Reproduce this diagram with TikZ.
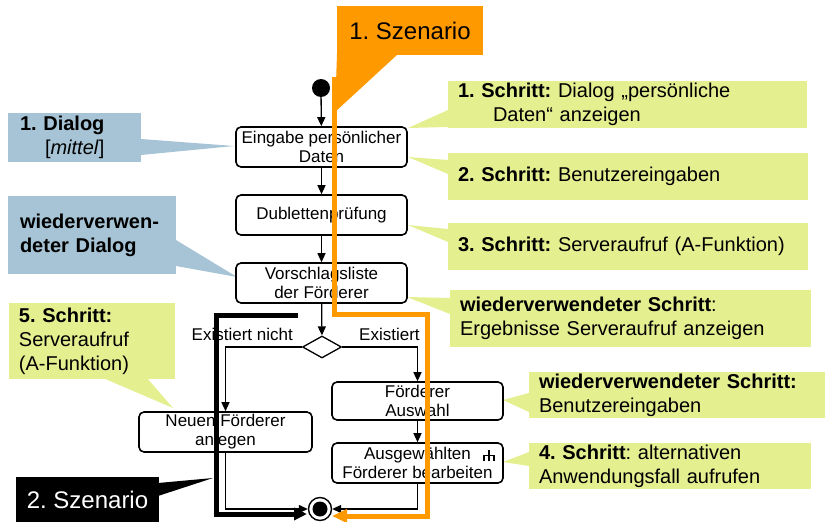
\documentclass[tikz,border=0pt]{standalone}
\usepackage{fontspec}
\setmainfont{Liberation Sans}
\usetikzlibrary{arrows.meta,shapes.geometric}
\definecolor{ygreen}{RGB}{228,239,144}
\definecolor{dblue}{RGB}{166,196,213}
\definecolor{scorange}{RGB}{255,153,0}
\frenchspacing
\begin{document}
\begin{tikzpicture}[x=1pt,y=-1pt,
  actbox/.style={draw, line width=1.6pt, rounded corners=5pt, fill=white, align=center, inner sep=0pt, font=\fontsize{17}{19}\selectfont},
  arr/.style={line width=1.3pt, -{Triangle[length=9pt,width=8pt]}},
  lbl/.style={font=\fontsize{17}{19}\selectfont, inner sep=0pt},
  callout/.style={anchor=north west, align=left, inner xsep=10pt, inner ysep=0pt, outer sep=0pt, font=\fontsize{20}{24}\selectfont},
  ycall/.style={callout, fill=ygreen},
  bcall/.style={callout, fill=dblue, inner xsep=12pt},
  scen/.style={anchor=north west, inner sep=0pt, outer sep=0pt, align=center, font=\fontsize{24}{28}\selectfont},
  orangepath/.style={scorange, line width=5pt, -{Triangle[length=15pt,width=13pt]}},
  blackpath/.style={black, line width=5pt, -{Triangle[length=13pt,width=12pt]}}
]
\useasboundingbox (0,0) rectangle (825,522);

% callout pointers
\fill[ygreen] (448,110) -- (408,128) -- (448,127) -- cycle;
\fill[ygreen] (448,160) -- (408,157) -- (448,174) -- cycle;
\fill[ygreen] (448,229) -- (408,225) -- (448,242) -- cycle;
\fill[ygreen] (450,298) -- (407,297) -- (450,314) -- cycle;
\fill[ygreen] (529,393) -- (503,400) -- (529,412) -- cycle;
\fill[ygreen] (529,452) -- (503,462) -- (529,466) -- cycle;
\fill[ygreen] (103,378) -- (173,408) -- (147,378) -- cycle;
\fill[dblue] (141,139) -- (234,146) -- (141,155) -- cycle;
\fill[dblue] (176,240) -- (237,277) -- (176,266) -- cycle;

% callouts
\node[ycall, text width=339pt, minimum height=47pt] (c1) at (448,81) {\textbf{1. Schritt:} Dialog „persönliche\\\hspace*{35pt}Daten“ anzeigen};
\node[ycall, text width=340pt, minimum height=47pt] (c2) at (448,153) {\textbf{2. Schritt:} Benutzereingaben};
\node[ycall, text width=340pt, minimum height=47pt] (c3) at (448,223) {\textbf{3. Schritt:} Serveraufruf (A-Funktion)};
\node[ycall, text width=341pt, minimum height=57pt] (c4) at (450,290) {\textbf{wiederverwendeter Schritt}:\\Ergebnisse Serveraufruf anzeigen};
\node[ycall, text width=276pt, minimum height=46pt] (c5) at (529,372) {\textbf{wiederverwendeter Schritt:}\\Benutzereingaben};
\node[ycall, text width=262pt, minimum height=46pt] (c6) at (529,443) {\textbf{4. Schritt}: alternativen\\Anwendungsfall aufrufen};
\node[ycall, text width=146pt, minimum height=76pt] (c7) at (9,303) {\textbf{5. Schritt:}\\Serveraufruf\\(A-Funktion)};
\node[bcall, text width=109pt, minimum height=49pt] (d1) at (8,113) {\textbf{1. Dialog}\\\hspace*{25pt}[\textit{mittel}]};
\node[bcall, text width=144pt, minimum height=78pt] (d2) at (8,196) {\textbf{wiederverwen-}\\\textbf{deter Dialog}};

% activity diagram
\node[circle, fill=black, minimum size=18pt, inner sep=0pt] (start) at (321,88) {};
\node[actbox, minimum width=171pt, minimum height=40pt] (b1) at (321.5,147) {Eingabe persönlicher\\Daten};
\node[actbox, minimum width=171pt, minimum height=40pt] (b2) at (321.5,215) {Dublettenprüfung};
\node[actbox, minimum width=171pt, minimum height=40pt] (b3) at (321.5,283) {Vorschlagsliste\\der Förderer};
\node[diamond, draw, line width=1.3pt, fill=white, minimum width=39pt, minimum height=22pt, inner sep=0pt] (dec) at (322,347) {};
\node[actbox, minimum width=173pt, minimum height=40pt] (neu) at (225.5,432) {Neuen Förderer\\anlegen};
\node[actbox, minimum width=171pt, minimum height=38pt] (aus) at (417.5,401) {Förderer\\Auswahl};
\node[actbox, minimum width=171pt, minimum height=40pt] (bea) at (417.5,463) {Ausgewählten\\Förderer bearbeiten};
\draw[line width=1.2pt] (489,450) -- (489,461) (484,461) -- (484,455.5) -- (494,455.5) -- (494,461);
\node[circle, draw, line width=1.4pt, fill=white, minimum size=23pt, inner sep=0pt] (end) at (320,509) {};
\fill (end.center) circle[radius=7.5pt];

\node[lbl, anchor=east] (lno) at (293,334) {Existiert nicht};
\node[lbl, anchor=west] (lyes) at (359,334) {Existiert};

\draw[arr] (start) -- (b1);
\draw[arr] (b1) -- (b2);
\draw[arr] (b2) -- (b3);
\draw[arr] (b3) -- (dec);
\draw[arr] (dec.west) -| (neu.north);
\draw[arr] (dec.east) -| (aus.north);
\draw[arr] (aus) -- (bea);
\draw[arr] (neu.south) |- (end);
\draw[arr] (bea.south) |- (end);

% scenario 1
\fill[scorange] (337,54) -- (398,54) -- (335,112) -- cycle;
\node[scen, fill=scorange, minimum width=146pt, minimum height=49pt] (s1) at (337,6) {1. Szenario};
\coordinate (o1) at (334,77);
\coordinate (o2) at (334,314);
\coordinate (o3) at (427,314);
\coordinate (o4) at (427,516);
\coordinate (o5) at (332,516);
\draw[orangepath] (o1) -- (o2) -- (o3) -- (o4) -- (o5);

% scenario 2
\fill[black] (158,483) -- (213,478) -- (158,496) -- cycle;
\node[scen, fill=black, text=white, minimum width=143pt, minimum height=46pt] (s2) at (16,477) {2. Szenario};
\coordinate (k1) at (298,315);
\coordinate (k2) at (216,315);
\coordinate (k3) at (216,514);
\coordinate (k4) at (307,514);
\draw[blackpath] (k1) -- (k2) -- (k3) -- (k4);
\end{tikzpicture}
\end{document}
